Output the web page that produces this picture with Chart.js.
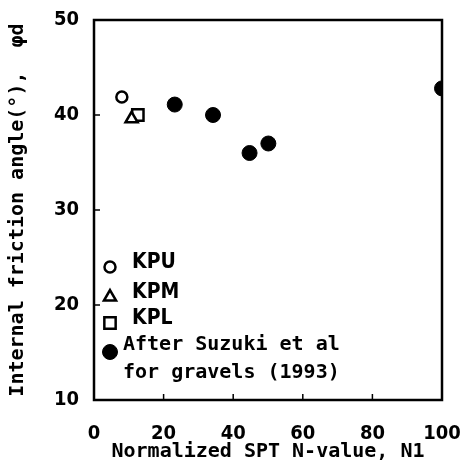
<!DOCTYPE html>
<html>
<head>
<meta charset="utf-8">
<script src="https://cdn.jsdelivr.net/npm/chart.js@4/dist/chart.umd.min.js"></script>
<style>
  html, body { margin: 0; padding: 0; background: #fff; }
  #wrap { width: 462px; height: 472px; }
</style>
</head>
<body>
<div id="wrap"><canvas id="c" width="462" height="472"></canvas></div>
<script>
// ---------- data ----------
const kpuX = [8.0],  kpuY = [41.9];
const kpmX = [10.8], kpmY = [39.6];
const kplX = [12.6], kplY = [40.0];
const suzukiX = [23.2, 34.2, 44.7, 50.1, 100];
const suzukiY = [41.1, 40.0, 36.0, 37.0, 42.8];

const xTicks = [0, 20, 40, 60, 80, 100];
const yTicks = [10, 20, 30, 40, 50];
const xTitle = 'Normalized SPT N-value, N1';
const yTitle = 'Internal friction angle(°),  φd';
const legendText = [['KPU'], ['KPM'], ['KPL'], ['After Suzuki et al', 'for gravels (1993)']];

const mono = "'DejaVu Sans Mono', monospace";
const sans = "'DejaVu Sans Condensed', 'Liberation Sans', sans-serif";

const pts = (xs, ys) => xs.map((x, i) => ({ x, y: ys[i] }));

// ---------- frame, inward ticks, legend ----------
const framePlugin = {
  id: 'frame',
  beforeDatasetsDraw(chart) {
    const { ctx, chartArea: a, scales: { x, y } } = chart;
    ctx.save();
    ctx.strokeStyle = '#000';
    ctx.lineWidth = 2.5;
    ctx.strokeRect(a.left, a.top, a.right - a.left, a.bottom - a.top);
    ctx.lineWidth = 1.5;
    ctx.beginPath();
    yTicks.slice(1, -1).forEach(v => {
      const py = y.getPixelForValue(v);
      ctx.moveTo(a.left, py); ctx.lineTo(a.left + 6, py);
    });
    xTicks.slice(1, -1).forEach(v => {
      const px = x.getPixelForValue(v);
      ctx.moveTo(px, a.bottom); ctx.lineTo(px, a.bottom - 6);
    });
    ctx.stroke();
    ctx.restore();
  },
  afterDraw(chart) {
    const ctx = chart.ctx;
    const rows = [267, 297, 323, 352];
    ctx.save();
    ctx.textBaseline = 'middle';
    chart.data.datasets.forEach((ds, i) => {
      ctx.strokeStyle = ds.borderColor;
      ctx.fillStyle = ds.backgroundColor;
      ctx.lineWidth = ds.borderWidth;
      Chart.helpers.drawPoint(ctx, { pointStyle: ds.pointStyle, radius: ds.pointRadius, borderWidth: ds.borderWidth }, 110, rows[i]);
      ctx.fillStyle = '#000';
      const lines = legendText[i];
      if (lines.length === 1) {
        ctx.font = "bold 21px " + sans;
        ctx.fillText(lines[0], 132, rows[i] - 4);
      } else {
        ctx.font = "bold 20px " + mono;
        ctx.fillText(lines[0], 123, rows[i] - 7);
        ctx.fillText(lines[1], 123, rows[i] + 21);
      }
    });
    ctx.restore();
  }
};

const noPadX = s => { s.height = 72; s.paddingLeft = 0; s.paddingRight = 0; };
const noPadY = s => { s.width = 94; s.paddingTop = 0; s.paddingBottom = 0; };

new Chart(document.getElementById('c'), {
  type: 'scatter',
  data: {
    datasets: [
      { label: legendText[0][0], data: pts(kpuX, kpuY), pointStyle: 'circle', pointRadius: 5.5,
        borderWidth: 2.5, borderColor: '#000', backgroundColor: '#fff' },
      { label: legendText[1][0], data: pts(kpmX, kpmY), pointStyle: 'triangle', pointRadius: 7,
        borderWidth: 2.5, borderColor: '#000', backgroundColor: '#fff' },
      { label: legendText[2][0], data: pts(kplX, kplY), pointStyle: 'rect', pointRadius: 8,
        borderWidth: 2.5, borderColor: '#000', backgroundColor: '#fff' },
      { label: legendText[3].join(' '), data: pts(suzukiX, suzukiY), pointStyle: 'circle', pointRadius: 7.5,
        borderWidth: 1, borderColor: '#000', backgroundColor: '#000' }
    ]
  },
  options: {
    responsive: false,
    animation: false,
    layout: { padding: { top: 20, right: 20, left: 0, bottom: 0 } },
    plugins: { legend: { display: false }, tooltip: { enabled: false } },
    scales: {
      x: {
        type: 'linear', min: 0, max: 100,
        afterBuildTicks: s => { s.ticks = xTicks.map(v => ({ value: v })); },
        afterFit: noPadX,
        grid: { display: false, drawTicks: false, tickLength: 0 }, border: { display: false },
        ticks: { color: '#000', padding: 22, font: { family: sans, size: 20, weight: 'bold' }, maxRotation: 0 },
        title: { display: true, text: xTitle, color: '#000', font: { family: mono, size: 20, weight: 'bold' },
                 padding: { top: 0, bottom: 8 } }
      },
      y: {
        type: 'linear', min: 10, max: 50,
        afterBuildTicks: s => { s.ticks = yTicks.map(v => ({ value: v })); },
        afterFit: noPadY,
        grid: { display: false, drawTicks: false, tickLength: 0 }, border: { display: false },
        ticks: { color: '#000', padding: 15, font: { family: sans, size: 20, weight: 'bold' } },
        title: { display: true, text: yTitle, color: '#000', font: { family: mono, size: 20, weight: 'bold' },
                 padding: { top: 6, bottom: 0 } }
      }
    }
  },
  plugins: [framePlugin]
});
</script>
</body>
</html>
